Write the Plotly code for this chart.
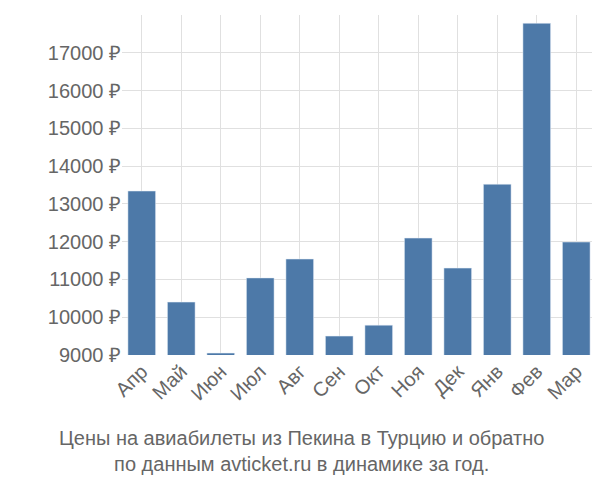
import plotly.graph_objects as go

months = ['Апр', 'Май', 'Июн', 'Июл', 'Авг', 'Сен', 'Окт', 'Ноя', 'Дек', 'Янв', 'Фев', 'Мар']
prices = [13340, 10400, 9050, 11040, 11540, 9500, 9790, 12095, 11300, 13520, 17780, 11990]
tick_vals = list(range(9000, 18001, 1000))
tick_text = [f'{v} ₽' for v in tick_vals]

fig = go.Figure()
fig.add_trace(go.Bar(x=months, y=prices, marker_color='#4d79a8', width=0.7))

fig.update_layout(
    width=590, height=488,
    margin=dict(l=114, r=2, t=7, b=141),
    plot_bgcolor='white', paper_bgcolor='white',
    font=dict(family='Liberation Sans, Arial', size=20, color='#666'),
    showlegend=False,
)
fig.update_xaxes(tickangle=-45, showgrid=True, gridcolor='#e0e0e0', ticks='')
fig.update_yaxes(range=[9000, 18000], tickvals=tick_vals, ticktext=tick_text,
                 showgrid=True, gridcolor='#e0e0e0', zeroline=False)

fig.add_annotation(
    text='Цены на авиабилеты из Пекина в Турцию и обратно<br>по данным avticket.ru в динамике за год.',
    xref='paper', yref='paper', x=0.5, xanchor='center', y=0, yanchor='top',
    yshift=-70, xshift=-58, showarrow=False,
    font=dict(size=20, color='#666')
)

fig.write_html("out.html")
